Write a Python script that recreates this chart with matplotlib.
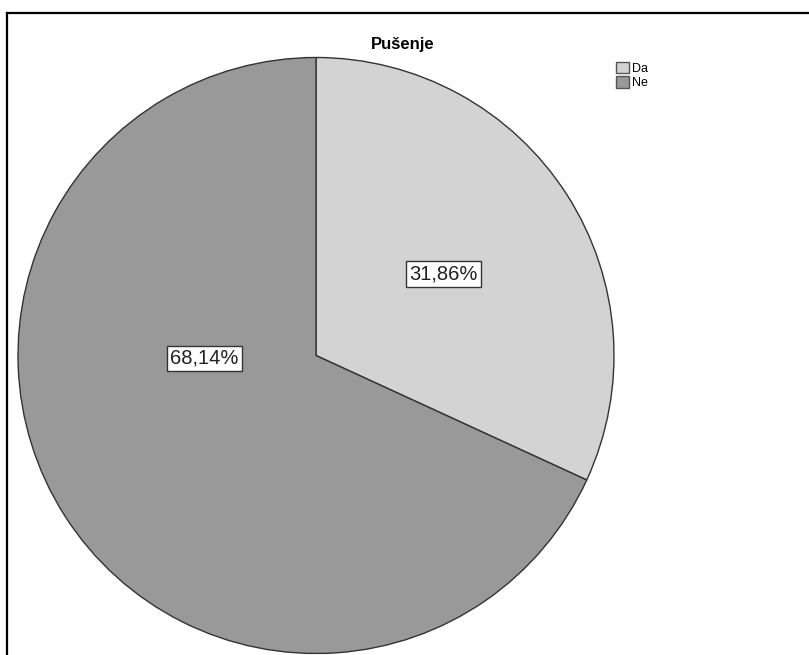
import matplotlib
matplotlib.use("Agg")
import matplotlib.pyplot as plt
from matplotlib.patches import Patch
from matplotlib.lines import Line2D

plt.rcParams['font.family'] = ['Liberation Sans', 'DejaVu Sans']

# data
categories = ["Da", "Ne"]
percentages = [31.86, 68.14]
colors = ["#d3d3d3", "#999999"]
title = "Pušenje"

W, H = 809, 655
fig = plt.figure(figsize=(W / 100, H / 100), dpi=100)
ax = fig.add_axes([0, 0, 1, 1])
ax.set_xlim(0, W)
ax.set_ylim(0, H)
ax.set_aspect('equal')
ax.axis('off')

# pie centre / radius in pixel coordinates (y from bottom)
cx, cy, r = 316, H - 355.5, 298
wedges, _ = ax.pie(percentages, colors=colors, startangle=90, counterclock=False,
                   center=(cx, cy), radius=r,
                   wedgeprops=dict(edgecolor="#333333", linewidth=1.0))
ax.set_xlim(0, W)
ax.set_ylim(0, H)

# percentage labels in white boxes
label_pos = [(443.5, H - 274), (204.5, H - 358.5)]
for (x, y), v in zip(label_pos, percentages):
    ax.text(x, y, f"{v:.2f}%".replace('.', ','), ha='center', va='center',
            fontsize=14.5, color='#222222',
            bbox=dict(boxstyle='square,pad=0.15', facecolor='white',
                      edgecolor='#333333', linewidth=1.0))

ax.text(403, H - 45, title, ha='center', va='center', fontsize=12,
        fontweight='bold', color='black')

handles = [Patch(facecolor=c, edgecolor='#555555', linewidth=1.0) for c in colors]
ax.legend(handles, categories, loc='upper left',
          bbox_to_anchor=(616 / W, 1 - 62 / H), frameon=False, fontsize=9,
          handlelength=1.0, handleheight=1.0, handletextpad=0.25,
          labelspacing=0.12, borderpad=0, borderaxespad=0)

# partial frame (top and left edges)
fig.add_artist(Line2D([7 / W, 1], [1 - 13 / H, 1 - 13 / H], color='black',
                      linewidth=1.6, transform=fig.transFigure))
fig.add_artist(Line2D([7 / W, 7 / W], [0, 1 - 13 / H], color='black',
                      linewidth=1.6, transform=fig.transFigure))

fig.savefig("out.png", dpi=100)
